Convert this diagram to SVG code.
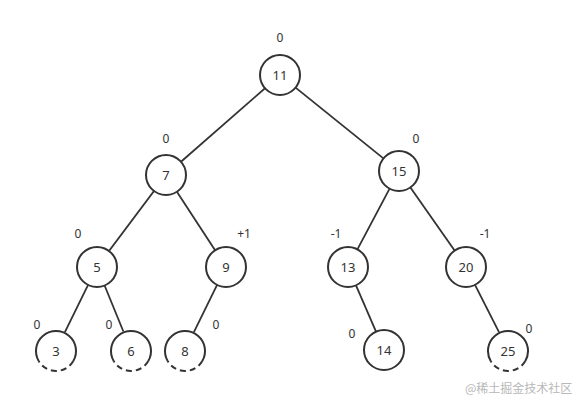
<svg xmlns="http://www.w3.org/2000/svg" width="578" height="401" viewBox="0 0 578 401">
<style>
.n{fill:#fff;stroke:#333;stroke-width:2}
.a{fill:none;stroke:#333;stroke-width:2}
.d{fill:none;stroke:#333;stroke-width:2;stroke-dasharray:6 4}
.e{stroke:#333;stroke-width:1.8}
.t{font-family:"Noto Sans","DejaVu Sans",sans-serif;font-size:13px;fill:#333;text-anchor:middle;dominant-baseline:central}
.b{font-family:"Noto Sans","DejaVu Sans",sans-serif;font-size:12px;fill:#333;text-anchor:middle;dominant-baseline:central}
.w{font-family:"Noto Sans CJK SC",sans-serif;font-size:12px;fill:#b8b8b8}
</style>
<rect width="578" height="401" fill="#fff"/>
<g id="connectors">
<line class="e" x1="265" y1="88.2" x2="181" y2="161.8"/>
<line class="e" x1="295.6" y1="87.6" x2="383.4" y2="158.4"/>
<line class="e" x1="154" y1="191" x2="109" y2="251"/>
<line class="e" x1="176.9" y1="191.8" x2="215.1" y2="250.2"/>
<line class="e" x1="389.6" y1="188.7" x2="357.4" y2="249.3"/>
<line class="e" x1="410.4" y1="187.4" x2="454.6" y2="250.6"/>
<line class="e" x1="88.1" y1="284.9" x2="64.9" y2="332.1"/>
<line class="e" x1="104.6" y1="285.5" x2="123.4" y2="331.5"/>
<line class="e" x1="217.1" y1="284.9" x2="193.9" y2="332.1"/>
<line class="e" x1="356" y1="285.3" x2="376" y2="331.7"/>
<line class="e" x1="475" y1="284.8" x2="499" y2="332.2"/>
</g>
<g id="n11"><circle class="n" cx="280" cy="75" r="20"/><text class="t" x="280" y="75">11</text><text class="b" x="280" y="37">0</text></g>
<g id="n7"><circle class="n" cx="166" cy="175" r="20"/><text class="t" x="166" y="175">7</text><text class="b" x="166" y="138">0</text></g>
<g id="n15"><circle class="n" cx="399" cy="171" r="20"/><text class="t" x="399" y="171">15</text><text class="b" x="416" y="138">0</text></g>
<g id="n5"><circle class="n" cx="97" cy="267" r="20"/><text class="t" x="97" y="267">5</text><text class="b" x="78" y="233">0</text></g>
<g id="n9"><circle class="n" cx="226" cy="267" r="20"/><text class="t" x="226" y="267">9</text><text class="b" x="244" y="233">+1</text></g>
<g id="n13"><circle class="n" cx="348" cy="267" r="20"/><text class="t" x="348" y="267">13</text><text class="b" x="336" y="233">-1</text></g>
<g id="n20"><circle class="n" cx="466" cy="267" r="20"/><text class="t" x="466" y="267">20</text><text class="b" x="485" y="233">-1</text></g>
<g id="n3"><path class="a" d="M38.7,361 A20 20 0 1 1 73.3,361"/><path class="d" d="M73.3,361 A20 20 0 0 1 38.7,361"/><text class="t" x="56" y="351">3</text><text class="b" x="37" y="324">0</text></g>
<g id="n6"><path class="a" d="M113.7,361 A20 20 0 1 1 148.3,361"/><path class="d" d="M148.3,361 A20 20 0 0 1 113.7,361"/><text class="t" x="131" y="351">6</text><text class="b" x="109" y="324">0</text></g>
<g id="n8"><path class="a" d="M167.7,361 A20 20 0 1 1 202.3,361"/><path class="d" d="M202.3,361 A20 20 0 0 1 167.7,361"/><text class="t" x="185" y="351">8</text><text class="b" x="216" y="324">0</text></g>
<g id="n14"><circle class="n" cx="384" cy="350" r="20"/><text class="t" x="384" y="350">14</text><text class="b" x="352" y="333">0</text></g>
<g id="n25"><path class="a" d="M490.7,361 A20 20 0 1 1 525.3,361"/><path class="d" d="M525.3,361 A20 20 0 0 1 490.7,361"/><text class="t" x="508" y="351">25</text><text class="b" x="529" y="328">0</text></g>
<text class="w" x="465" y="393">@稀土掘金技术社区</text>
</svg>
